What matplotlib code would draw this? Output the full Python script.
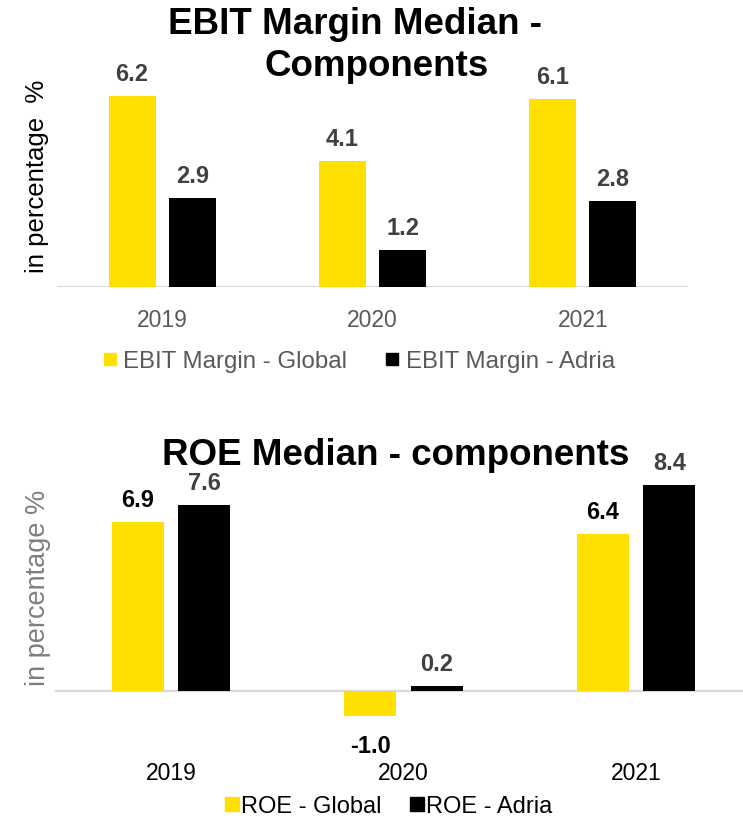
import matplotlib
matplotlib.use("Agg")
import matplotlib.pyplot as plt
from matplotlib.lines import Line2D
import numpy as np

plt.rcParams['font.family'] = ['Liberation Sans', 'DejaVu Sans']

years = ["2019", "2020", "2021"]
ebit_global = [6.2, 4.1, 6.1]
ebit_adria = [2.9, 1.2, 2.8]
roe_global = [6.9, -1.0, 6.4]
roe_adria = [7.6, 0.2, 8.4]

YELLOW = "#FFE000"
BLACK = "#000000"
DARK = "#404040"
GREY = "#595959"
LINE = "#D9D9D9"

W, H = 743, 820
fig = plt.figure(figsize=(W / 100, H / 100), dpi=100)


def px_axes(left, right, base, top_val, bot_val, px_per_unit):
    """Create axes from pixel geometry: zero line at `base` px from the top."""
    top_px = base - top_val * px_per_unit
    bot_px = base - bot_val * px_per_unit
    ax = fig.add_axes([left / W, 1 - bot_px / H, (right - left) / W, (bot_px - top_px) / H])
    ax.set_ylim(bot_val, top_val)
    ax.set_xlim(-0.5, 2.5)
    for s in ax.spines.values():
        s.set_visible(False)
    ax.set_yticks([])
    ax.axhline(0, color=LINE, lw=1.6, zorder=1)
    return ax


x = np.arange(len(years))
bw = 0.224
off = 0.143

# ---- EBIT margin panel ----
ax1 = px_axes(57, 688, 288, 7.0, 0.0, 30.8)
b1 = ax1.bar(x - off, ebit_global, bw, color=YELLOW, zorder=2)
b2 = ax1.bar(x + off, ebit_adria, bw, color=BLACK, zorder=2)
for bars, vals in ((b1, ebit_global), (b2, ebit_adria)):
    for r, v in zip(bars, vals):
        ax1.annotate(f"{v:.1f}", (r.get_x() + r.get_width() / 2, v),
                     xytext=(0, 11.5), textcoords="offset points",
                     ha="center", va="baseline", fontsize=17,
                     fontweight="bold", color=DARK)
ax1.set_xticks(x)
ax1.set_xticklabels(years, fontsize=16.5, color=GREY)
ax1.tick_params(axis="x", length=0, pad=15)

fig.text(355 / W, 1 - 34 / H, "EBIT Margin Median -", ha="center", va="baseline",
         fontsize=26.5, fontweight="bold")
fig.text(377 / W, 1 - 76 / H, "Components", ha="center", va="baseline",
         fontsize=26.5, fontweight="bold")
fig.text(37 / W, 1 - 176 / H, "in percentage  %", rotation=90, ha="center",
         va="center", fontsize=18.5, color=BLACK)

h1 = [Line2D([], [], marker="s", ls="", color=YELLOW, markersize=8),
      Line2D([], [], marker="s", ls="", color=BLACK, markersize=8)]
fig.legend(h1, ["EBIT Margin - Global", "EBIT Margin - Adria"], loc="center",
           bbox_to_anchor=(358.5 / W, 1 - 362 / H), ncol=2, frameon=False,
           fontsize=17.3, labelcolor=GREY, handlelength=0.6, handletextpad=0.25,
           columnspacing=1.6, borderpad=0, borderaxespad=0)

# ---- ROE panel ----
ax2 = px_axes(54.75, 752.25, 692, 9.0, -2.0, 24.5)
c1 = ax2.bar(x - off, roe_global, bw, color=YELLOW, zorder=2)
c2 = ax2.bar(x + off, roe_adria, bw, color=BLACK, zorder=2)
for bars, vals, col in ((c1, roe_global, BLACK), (c2, roe_adria, DARK)):
    for r, v in zip(bars, vals):
        dy = 11.5 if v >= 0 else -26
        ax2.annotate(f"{v:.1f}", (r.get_x() + r.get_width() / 2, v),
                     xytext=(0, dy), textcoords="offset points",
                     ha="center", va="baseline", fontsize=17,
                     fontweight="bold", color=col)
ax2.set_xticks(x)
ax2.set_xticklabels(years, fontsize=16.5, color=BLACK)
ax2.tick_params(axis="x", length=0, pad=15)

fig.text(396 / W, 1 - 465 / H, "ROE Median - components", ha="center",
         va="baseline", fontsize=26.5, fontweight="bold")
fig.text(38 / W, 1 - 588 / H, "in percentage %", rotation=90, ha="center",
         va="center", fontsize=19.5, color="#7F7F7F")

h2 = [Line2D([], [], marker="s", ls="", color=YELLOW, markersize=9.5),
      Line2D([], [], marker="s", ls="", color=BLACK, markersize=9.5)]
fig.legend(h2, ["ROE - Global", "ROE - Adria"], loc="center",
           bbox_to_anchor=(388.5 / W, 1 - 807 / H), ncol=2, frameon=False,
           fontsize=17, labelcolor=BLACK, handlelength=0.6, handletextpad=0.1,
           columnspacing=1.2, borderpad=0, borderaxespad=0)

fig.savefig("out.png", dpi=100)
